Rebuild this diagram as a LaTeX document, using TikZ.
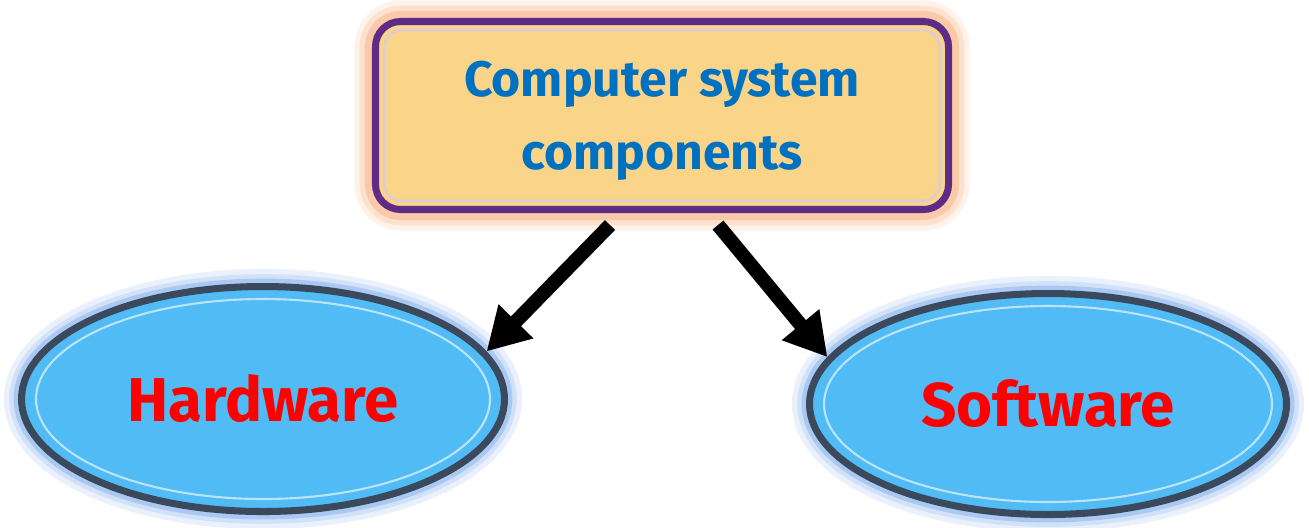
\documentclass[tikz,border=0pt]{standalone}
\usepackage{fontspec}
\setmainfont{Fira Sans}
\usetikzlibrary{arrows.meta,shapes.geometric}

\definecolor{boxfill}{HTML}{FAD488}
\definecolor{boxline}{HTML}{5E2C86}
\definecolor{boxglow}{HTML}{F9C9A8}
\definecolor{ovalfill}{HTML}{51BBF5}
\definecolor{ovalline}{HTML}{3A4A5C}
\definecolor{ovalglow}{HTML}{A9C8F2}
\definecolor{textblue}{HTML}{0070C0}

\begin{document}
\begin{tikzpicture}[
  topbox/.style={draw=boxline, line width=2pt, fill=boxfill, rounded corners=0.25cm,
    minimum width=5.73cm, minimum height=1.88cm, align=center, text=textblue,
    font=\fontsize{14.2}{20.8}\selectfont\bfseries, text depth=0pt,
    preaction={draw=boxglow!25, line width=12pt},
    preaction={draw=boxglow!55, line width=9pt},
    preaction={draw=boxglow, line width=6pt}},
  oval/.style={ellipse, draw=ovalline, line width=2pt, fill=ovalfill, inner sep=0pt,
    text=red, font=\fontsize{17.6}{21}\selectfont\bfseries,
    preaction={draw=ovalglow!25, line width=10pt},
    preaction={draw=ovalglow!55, line width=7pt},
    preaction={draw=ovalglow, line width=4.5pt}},
  arr/.style={-{Triangle[length=12pt,width=13pt]}, line width=4pt},
]
\useasboundingbox (0,0) rectangle (13.09,5.27);

\node[topbox] (top) at (6.62,4.115) {Computer system\\components};

\node[oval, minimum width=4.83cm, minimum height=2.25cm] (hw) at (2.63,1.28) {Hardware};
\node[oval, minimum width=4.77cm, minimum height=2.21cm] (sw) at (10.48,1.23) {Software};

% inner rims
\draw[boxline!25, line width=0.6pt, rounded corners=0.18cm]
  ([shift={(0.12,0.12)}]top.south west) rectangle ([shift={(-0.12,-0.12)}]top.north east);
\draw[white!60!ovalfill, line width=0.6pt] (hw.center) ellipse [x radius=2.27cm, y radius=1.0cm];
\draw[white!60!ovalfill, line width=0.6pt] (sw.center) ellipse [x radius=2.24cm, y radius=0.98cm];

\draw[arr] ([shift={(-0.52,-0.12)}]top.south) -- (hw.12);
\draw[arr] ([shift={(0.56,-0.12)}]top.south) -- (sw.168);

\end{tikzpicture}
\end{document}
